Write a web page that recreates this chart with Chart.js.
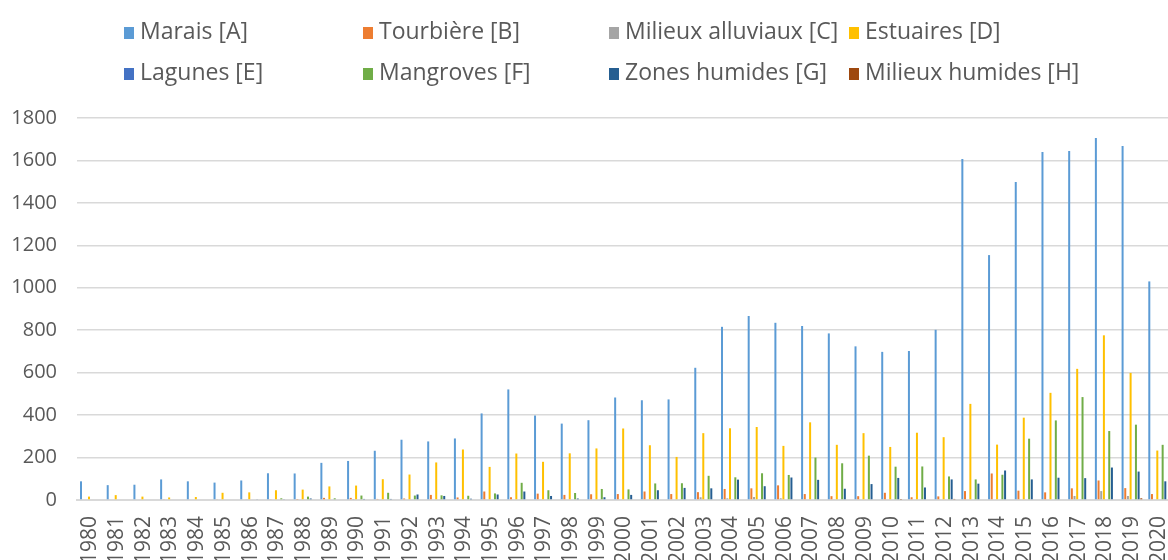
<!DOCTYPE html>
<html>
<head>
<meta charset="utf-8">
<script src="https://cdn.jsdelivr.net/npm/chart.js@4"></script>
<style>
  html, body { margin: 0; padding: 0; background: #fff; overflow: hidden; }
  #wrap { position: relative; width: 1168px; height: 560px; overflow: hidden; }
  #chart { position: absolute; left: 0; top: 0; }
  .leg { position: absolute; font-family: "Open Sans", sans-serif; font-size: 23px; color: #595959; white-space: nowrap; line-height: 24px; }
  .leg i { display: inline-block; width: 10px; height: 12px; margin-right: 6px; vertical-align: 0px; }
</style>
</head>
<body>
<div id="wrap">
  <canvas id="chart" width="1172" height="560"></canvas>
  <div id="legend"></div>
</div>
<script>
  const years = [];
  for (let y = 1980; y <= 2020; y++) years.push(String(y));

  const seriesNames = ["Marais [A]", "Tourbière [B]", "Milieux alluviaux [C]", "Estuaires [D]",
    "Lagunes [E]", "Mangroves [F]", "Zones humides [G]", "Milieux humides [H]"];

  const colors = ["#5B9BD5", "#ED7D31", "#A5A5A5", "#FFC000", "#4472C4", "#70AD47", "#255E91", "#9E480E"];

  // 1980 ... 2020
  const marais = [88, 70, 72, 97, 88, 82, 92, 126, 125, 175, 184, 232, 284, 276, 290, 408, 521, 398, 360, 376,
    483, 470, 474, 623, 816, 867, 835, 820, 785, 724, 698, 702, 802, 1607, 1154, 1498, 1640, 1645, 1706, 1668, 1030];
  const tourbiere = [0, 0, 0, 3, 0, 4, 0, 4, 2, 10, 10, 5, 7, 24, 12, 40, 13, 30, 24, 27,
    28, 40, 28, 37, 52, 55, 69, 28, 18, 18, 34, 13, 17, 42, 125, 44, 36, 55, 92, 56, 28];
  const alluviaux = [0, 0, 0, 0, 0, 0, 3, 0, 0, 0, 2, 0, 0, 0, 0, 0, 0, 0, 0, 0,
    0, 0, 0, 13, 8, 14, 8, 0, 3, 0, 0, 0, 0, 0, 0, 0, 0, 19, 42, 19, 0];
  const estuaires = [16, 23, 16, 12, 14, 34, 36, 46, 49, 64, 68, 98, 120, 177, 238, 156, 219, 180, 220, 243,
    337, 258, 203, 315, 338, 344, 255, 366, 260, 315, 250, 317, 296, 453, 261, 388, 505, 618, 776, 599, 233];
  const lagunes = [0, 0, 0, 0, 0, 0, 0, 0, 0, 0, 0, 0, 0, 0, 0, 0, 0, 0, 0, 0,
    0, 0, 0, 0, 0, 0, 0, 0, 0, 0, 0, 0, 0, 0, 0, 0, 0, 0, 0, 0, 0];
  const mangroves = [0, 0, 0, 0, 0, 0, 0, 8, 16, 8, 21, 34, 21, 22, 20, 31, 81, 46, 33, 52,
    50, 78, 79, 114, 107, 126, 118, 200, 173, 209, 157, 158, 111, 97, 119, 289, 375, 485, 325, 355, 260];
  const zonesHumides = [0, 0, 0, 0, 0, 0, 4, 3, 7, 0, 5, 5, 26, 19, 6, 26, 40, 19, 7, 13,
    24, 46, 57, 55, 96, 65, 106, 95, 53, 75, 104, 59, 97, 77, 139, 97, 105, 103, 153, 134, 88];
  const milieuxHumides = [0, 0, 0, 0, 0, 0, 0, 0, 0, 0, 0, 0, 0, 0, 0, 0, 0, 0, 0, 0,
    0, 0, 0, 0, 0, 0, 0, 0, 0, 0, 2, 0, 5, 0, 0, 0, 0, 0, 0, 8, 0];

  const yTicks = [0, 200, 400, 600, 800, 1000, 1200, 1400, 1600, 1800];

  const values = [marais, tourbiere, alluviaux, estuaires, lagunes, mangroves, zonesHumides, milieuxHumides];

  const chart = new Chart(document.getElementById("chart"), {
    type: "bar",
    data: {
      labels: years,
      datasets: seriesNames.map((name, i) => ({
        label: name,
        data: values[i],
        backgroundColor: colors[i],
        categoryPercentage: 0.8,
        barPercentage: 0.75
      }))
    },
    options: {
      responsive: false,
      animation: false,
      layout: { padding: { top: 118, left: 0, right: 0, bottom: 0 } },
      plugins: { legend: { display: false }, tooltip: { enabled: false } },
      scales: {
        x: {
          grid: { display: false, drawTicks: false },
          border: { color: "#d9d9d9", width: 2 },
          ticks: {
            color: "#595959",
            font: { family: "Open Sans", size: 21 },
            minRotation: 90,
            maxRotation: 90,
            autoSkip: false,
            padding: 16
          },
          afterFit: s => {
            s.height = 60;
            // let the plot run to the canvas edge like the original
            s.paddingLeft = 0;
            s.paddingRight = 0;
          }
        },
        y: {
          min: 0,
          max: 1800,
          afterBuildTicks: s => { s.ticks = yTicks.map(v => ({ value: v })); },
          grid: { color: "#d9d9d9", lineWidth: 1.5, drawTicks: false },
          border: { display: false },
          ticks: {
            color: "#595959",
            font: { family: "Open Sans", size: 20 },
            padding: 20,
            callback: v => String(v)
          },
          afterFit: s => { s.width = 77; }
        }
      }
    }
  });

  // legend laid out in Excel-like columns
  const legendPos = [[124, 18], [363, 18], [609, 18], [849, 18], [124, 59], [363, 59], [609, 59], [849, 59]];
  const legend = document.getElementById("legend");
  chart.data.datasets.forEach((ds, i) => {
    const el = document.createElement("div");
    el.className = "leg";
    el.style.left = legendPos[i][0] + "px";
    el.style.top = legendPos[i][1] + "px";
    el.innerHTML = '<i style="background:' + ds.backgroundColor + '"></i>';
    el.appendChild(document.createTextNode(ds.label));
    legend.appendChild(el);
  });
</script>
</body>
</html>
